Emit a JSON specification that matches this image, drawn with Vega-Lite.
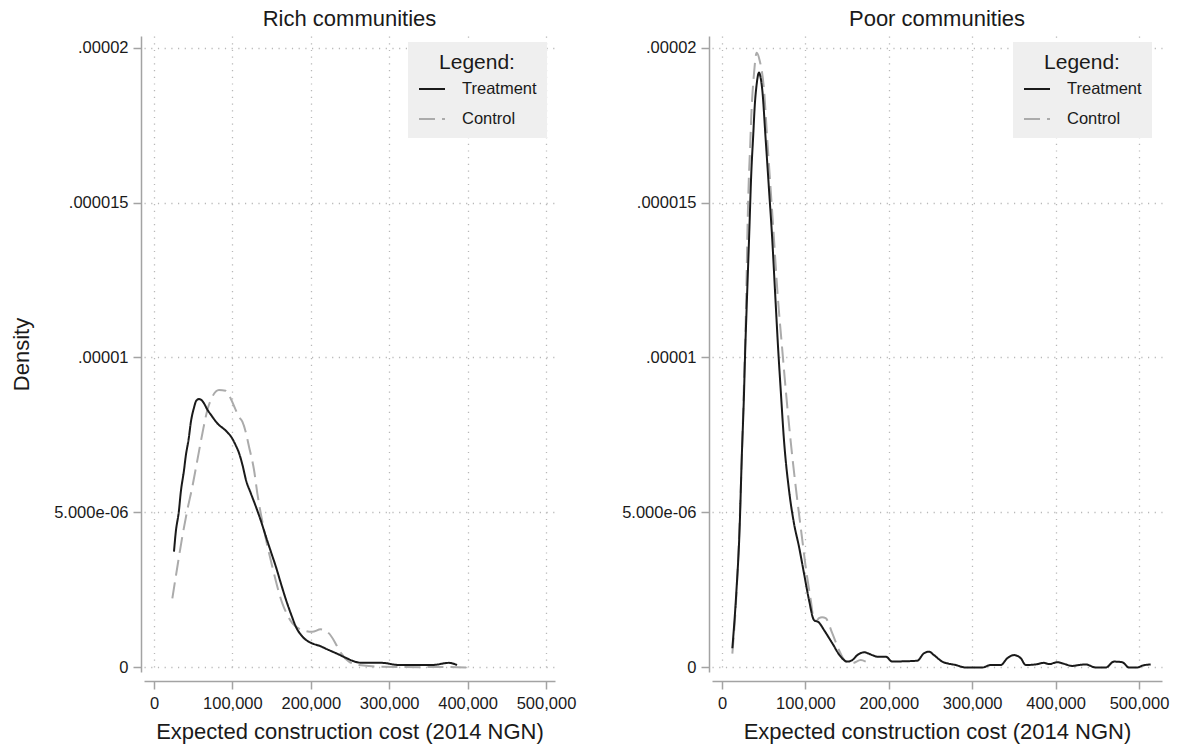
{
  "$schema": "https://vega.github.io/schema/vega-lite/v6.json",
  "background": "white",
  "padding": {"left": 10, "top": 8, "right": 10, "bottom": 5},
  "bounds": "flush",
  "spacing": 157,
  "config": {
    "view": {"stroke": null},
    "font": "Liberation Sans",
    "title": {"font": "Liberation Sans", "fontSize": 22, "fontWeight": "normal", "color": "#1a1a1a", "offset": 5, "baseline": "alphabetic", "anchor": "middle"},
    "axis": {
      "domainColor": "#a3a3a3", "domainWidth": 1.5, "tickColor": "#a3a3a3", "tickWidth": 1.5, "tickSize": 8,
      "labelFont": "Liberation Sans", "labelFontSize": 16.5, "labelColor": "#1a1a1a",
      "titleFont": "Liberation Sans", "titleFontSize": 22, "titleFontWeight": "normal", "titleColor": "#1a1a1a",
      "grid": true, "gridColor": "#b8b8b8", "gridDash": [1.2, 5.5], "gridWidth": 1.3
    },
    "axisX": {"labelPadding": 6, "titlePadding": 10, "labelAngle": 0},
    "axisY": {"labelPadding": 5, "titlePadding": 20, "labelAngle": 0}
  },
  "datasets": {
    "rich": [
      {"group": "Control", "cost": 23400, "density": 2.23e-6},
      {"group": "Control", "cost": 29800, "density": 3.25e-6},
      {"group": "Control", "cost": 36100, "density": 4.22e-6},
      {"group": "Control", "cost": 42500, "density": 5.08e-6},
      {"group": "Control", "cost": 48900, "density": 5.83e-6},
      {"group": "Control", "cost": 55300, "density": 6.69e-6},
      {"group": "Control", "cost": 61700, "density": 7.55e-6},
      {"group": "Control", "cost": 68100, "density": 8.31e-6},
      {"group": "Control", "cost": 74500, "density": 8.74e-6},
      {"group": "Control", "cost": 82900, "density": 8.95e-6},
      {"group": "Control", "cost": 91400, "density": 8.93e-6},
      {"group": "Control", "cost": 97800, "density": 8.68e-6},
      {"group": "Control", "cost": 104200, "density": 8.31e-6},
      {"group": "Control", "cost": 108500, "density": 8.08e-6},
      {"group": "Control", "cost": 112700, "density": 7.93e-6},
      {"group": "Control", "cost": 117000, "density": 7.6e-6},
      {"group": "Control", "cost": 121200, "density": 7.12e-6},
      {"group": "Control", "cost": 127600, "density": 6.37e-6},
      {"group": "Control", "cost": 131800, "density": 5.62e-6},
      {"group": "Control", "cost": 140300, "density": 4.44e-6},
      {"group": "Control", "cost": 150900, "density": 3.25e-6},
      {"group": "Control", "cost": 163700, "density": 2.07e-6},
      {"group": "Control", "cost": 170000, "density": 1.7e-6},
      {"group": "Control", "cost": 176400, "density": 1.43e-6},
      {"group": "Control", "cost": 189200, "density": 1.21e-6},
      {"group": "Control", "cost": 201900, "density": 1.15e-6},
      {"group": "Control", "cost": 212600, "density": 1.23e-6},
      {"group": "Control", "cost": 223200, "density": 1.1e-6},
      {"group": "Control", "cost": 230000, "density": 0.85e-6},
      {"group": "Control", "cost": 236000, "density": 0.56e-6},
      {"group": "Control", "cost": 248700, "density": 0.19e-6},
      {"group": "Control", "cost": 261500, "density": 0.08e-6},
      {"group": "Control", "cost": 287000, "density": 0.03e-6},
      {"group": "Control", "cost": 338000, "density": 0.01e-6},
      {"group": "Control", "cost": 370000, "density": 0.02e-6},
      {"group": "Control", "cost": 398000, "density": 0.0},
      {"group": "Treatment", "cost": 25500, "density": 3.74e-6},
      {"group": "Treatment", "cost": 27600, "density": 4.33e-6},
      {"group": "Treatment", "cost": 31900, "density": 5.08e-6},
      {"group": "Treatment", "cost": 34000, "density": 5.62e-6},
      {"group": "Treatment", "cost": 38300, "density": 6.37e-6},
      {"group": "Treatment", "cost": 40400, "density": 6.8e-6},
      {"group": "Treatment", "cost": 44600, "density": 7.44e-6},
      {"group": "Treatment", "cost": 46800, "density": 7.88e-6},
      {"group": "Treatment", "cost": 51000, "density": 8.38e-6},
      {"group": "Treatment", "cost": 54000, "density": 8.61e-6},
      {"group": "Treatment", "cost": 57400, "density": 8.66e-6},
      {"group": "Treatment", "cost": 60500, "density": 8.63e-6},
      {"group": "Treatment", "cost": 63800, "density": 8.52e-6},
      {"group": "Treatment", "cost": 68000, "density": 8.32e-6},
      {"group": "Treatment", "cost": 72700, "density": 8.15e-6},
      {"group": "Treatment", "cost": 77500, "density": 7.98e-6},
      {"group": "Treatment", "cost": 82900, "density": 7.82e-6},
      {"group": "Treatment", "cost": 88000, "density": 7.72e-6},
      {"group": "Treatment", "cost": 93100, "density": 7.6e-6},
      {"group": "Treatment", "cost": 99500, "density": 7.4e-6},
      {"group": "Treatment", "cost": 104000, "density": 7.18e-6},
      {"group": "Treatment", "cost": 108400, "density": 6.92e-6},
      {"group": "Treatment", "cost": 113000, "density": 6.52e-6},
      {"group": "Treatment", "cost": 117300, "density": 6.05e-6},
      {"group": "Treatment", "cost": 123500, "density": 5.62e-6},
      {"group": "Treatment", "cost": 130100, "density": 5.18e-6},
      {"group": "Treatment", "cost": 136500, "density": 4.72e-6},
      {"group": "Treatment", "cost": 142900, "density": 4.21e-6},
      {"group": "Treatment", "cost": 149300, "density": 3.72e-6},
      {"group": "Treatment", "cost": 155600, "density": 3.24e-6},
      {"group": "Treatment", "cost": 162000, "density": 2.7e-6},
      {"group": "Treatment", "cost": 168400, "density": 2.18e-6},
      {"group": "Treatment", "cost": 174800, "density": 1.72e-6},
      {"group": "Treatment", "cost": 181100, "density": 1.31e-6},
      {"group": "Treatment", "cost": 190000, "density": 0.98e-6},
      {"group": "Treatment", "cost": 199800, "density": 0.8e-6},
      {"group": "Treatment", "cost": 211000, "density": 0.7e-6},
      {"group": "Treatment", "cost": 223200, "density": 0.56e-6},
      {"group": "Treatment", "cost": 234000, "density": 0.44e-6},
      {"group": "Treatment", "cost": 244900, "density": 0.31e-6},
      {"group": "Treatment", "cost": 255000, "density": 0.2e-6},
      {"group": "Treatment", "cost": 265300, "density": 0.15e-6},
      {"group": "Treatment", "cost": 290800, "density": 0.15e-6},
      {"group": "Treatment", "cost": 312500, "density": 0.08e-6},
      {"group": "Treatment", "cost": 354600, "density": 0.08e-6},
      {"group": "Treatment", "cost": 376300, "density": 0.15e-6},
      {"group": "Treatment", "cost": 386500, "density": 0.08e-6}
    ],
    "poor": [
      {"group": "Control", "cost": 12400, "density": 0.45e-6},
      {"group": "Control", "cost": 17000, "density": 2.2e-6},
      {"group": "Control", "cost": 21000, "density": 4.6e-6},
      {"group": "Control", "cost": 24000, "density": 7.0e-6},
      {"group": "Control", "cost": 26500, "density": 9.3e-6},
      {"group": "Control", "cost": 28400, "density": 11.11e-6},
      {"group": "Control", "cost": 29600, "density": 12.73e-6},
      {"group": "Control", "cost": 30300, "density": 13.79e-6},
      {"group": "Control", "cost": 32400, "density": 15.95e-6},
      {"group": "Control", "cost": 33600, "density": 16.69e-6},
      {"group": "Control", "cost": 35100, "density": 17.77e-6},
      {"group": "Control", "cost": 38400, "density": 19.17e-6},
      {"group": "Control", "cost": 41600, "density": 19.83e-6},
      {"group": "Control", "cost": 45000, "density": 19.6e-6},
      {"group": "Control", "cost": 50400, "density": 18.63e-6},
      {"group": "Control", "cost": 54300, "density": 17.02e-6},
      {"group": "Control", "cost": 58400, "density": 15.4e-6},
      {"group": "Control", "cost": 62400, "density": 13.79e-6},
      {"group": "Control", "cost": 66300, "density": 12.18e-6},
      {"group": "Control", "cost": 72300, "density": 10.24e-6},
      {"group": "Control", "cost": 78300, "density": 8.41e-6},
      {"group": "Control", "cost": 84300, "density": 6.8e-6},
      {"group": "Control", "cost": 90300, "density": 5.4e-6},
      {"group": "Control", "cost": 96300, "density": 4.11e-6},
      {"group": "Control", "cost": 100300, "density": 3.25e-6},
      {"group": "Control", "cost": 106400, "density": 2.18e-6},
      {"group": "Control", "cost": 110300, "density": 1.53e-6},
      {"group": "Control", "cost": 113000, "density": 1.5e-6},
      {"group": "Control", "cost": 116300, "density": 1.59e-6},
      {"group": "Control", "cost": 120000, "density": 1.62e-6},
      {"group": "Control", "cost": 124300, "density": 1.59e-6},
      {"group": "Control", "cost": 132300, "density": 1.1e-6},
      {"group": "Control", "cost": 140300, "density": 0.56e-6},
      {"group": "Control", "cost": 148300, "density": 0.19e-6},
      {"group": "Control", "cost": 156300, "density": 0.14e-6},
      {"group": "Control", "cost": 166300, "density": 0.24e-6},
      {"group": "Control", "cost": 172300, "density": 0.19e-6},
      {"group": "Treatment", "cost": 12400, "density": 0.62e-6},
      {"group": "Treatment", "cost": 17100, "density": 2.39e-6},
      {"group": "Treatment", "cost": 21200, "density": 4.54e-6},
      {"group": "Treatment", "cost": 23600, "density": 6.69e-6},
      {"group": "Treatment", "cost": 26400, "density": 8.85e-6},
      {"group": "Treatment", "cost": 27600, "density": 10.03e-6},
      {"group": "Treatment", "cost": 29600, "density": 11.64e-6},
      {"group": "Treatment", "cost": 32400, "density": 13.79e-6},
      {"group": "Treatment", "cost": 35100, "density": 15.94e-6},
      {"group": "Treatment", "cost": 37500, "density": 17.2e-6},
      {"group": "Treatment", "cost": 39200, "density": 18.09e-6},
      {"group": "Treatment", "cost": 41500, "density": 18.8e-6},
      {"group": "Treatment", "cost": 44400, "density": 19.19e-6},
      {"group": "Treatment", "cost": 46500, "density": 19.0e-6},
      {"group": "Treatment", "cost": 48300, "density": 18.63e-6},
      {"group": "Treatment", "cost": 52400, "density": 17.02e-6},
      {"group": "Treatment", "cost": 56400, "density": 15.4e-6},
      {"group": "Treatment", "cost": 60300, "density": 13.79e-6},
      {"group": "Treatment", "cost": 63500, "density": 12.18e-6},
      {"group": "Treatment", "cost": 67500, "density": 10.2e-6},
      {"group": "Treatment", "cost": 70400, "density": 8.95e-6},
      {"group": "Treatment", "cost": 74300, "density": 7.34e-6},
      {"group": "Treatment", "cost": 80300, "density": 5.73e-6},
      {"group": "Treatment", "cost": 86300, "density": 4.65e-6},
      {"group": "Treatment", "cost": 92300, "density": 3.9e-6},
      {"group": "Treatment", "cost": 98300, "density": 3.04e-6},
      {"group": "Treatment", "cost": 104300, "density": 2.18e-6},
      {"group": "Treatment", "cost": 110300, "density": 1.53e-6},
      {"group": "Treatment", "cost": 116300, "density": 1.45e-6},
      {"group": "Treatment", "cost": 122300, "density": 1.21e-6},
      {"group": "Treatment", "cost": 132300, "density": 0.78e-6},
      {"group": "Treatment", "cost": 142300, "density": 0.35e-6},
      {"group": "Treatment", "cost": 150300, "density": 0.19e-6},
      {"group": "Treatment", "cost": 156300, "density": 0.24e-6},
      {"group": "Treatment", "cost": 162300, "density": 0.4e-6},
      {"group": "Treatment", "cost": 170300, "density": 0.49e-6},
      {"group": "Treatment", "cost": 180200, "density": 0.4e-6},
      {"group": "Treatment", "cost": 186200, "density": 0.35e-6},
      {"group": "Treatment", "cost": 196300, "density": 0.35e-6},
      {"group": "Treatment", "cost": 204200, "density": 0.19e-6},
      {"group": "Treatment", "cost": 218000, "density": 0.2e-6},
      {"group": "Treatment", "cost": 234200, "density": 0.22e-6},
      {"group": "Treatment", "cost": 242200, "density": 0.46e-6},
      {"group": "Treatment", "cost": 248200, "density": 0.51e-6},
      {"group": "Treatment", "cost": 254200, "density": 0.4e-6},
      {"group": "Treatment", "cost": 264100, "density": 0.19e-6},
      {"group": "Treatment", "cost": 280200, "density": 0.08e-6},
      {"group": "Treatment", "cost": 292200, "density": 0.0},
      {"group": "Treatment", "cost": 312100, "density": 0.0},
      {"group": "Treatment", "cost": 322200, "density": 0.08e-6},
      {"group": "Treatment", "cost": 334200, "density": 0.08e-6},
      {"group": "Treatment", "cost": 342100, "density": 0.3e-6},
      {"group": "Treatment", "cost": 350100, "density": 0.4e-6},
      {"group": "Treatment", "cost": 358200, "density": 0.3e-6},
      {"group": "Treatment", "cost": 364200, "density": 0.08e-6},
      {"group": "Treatment", "cost": 376100, "density": 0.1e-6},
      {"group": "Treatment", "cost": 386100, "density": 0.15e-6},
      {"group": "Treatment", "cost": 392100, "density": 0.11e-6},
      {"group": "Treatment", "cost": 402000, "density": 0.17e-6},
      {"group": "Treatment", "cost": 410000, "density": 0.12e-6},
      {"group": "Treatment", "cost": 420000, "density": 0.05e-6},
      {"group": "Treatment", "cost": 428000, "density": 0.08e-6},
      {"group": "Treatment", "cost": 436100, "density": 0.1e-6},
      {"group": "Treatment", "cost": 448100, "density": 0.0},
      {"group": "Treatment", "cost": 460100, "density": 0.0},
      {"group": "Treatment", "cost": 470100, "density": 0.19e-6},
      {"group": "Treatment", "cost": 480000, "density": 0.17e-6},
      {"group": "Treatment", "cost": 488000, "density": 0.0},
      {"group": "Treatment", "cost": 498000, "density": 0.0},
      {"group": "Treatment", "cost": 504000, "density": 0.06e-6},
      {"group": "Treatment", "cost": 514000, "density": 0.1e-6}
    ]
  },
  "hconcat": [
    {
      "title": {"text": "Rich communities"},
      "width": 411,
      "height": 636,
      "data": {"name": "rich"},
      "mark": {"type": "line", "strokeWidth": 2, "interpolate": "monotone"},
      "encoding": {
        "x": {"field": "cost", "type": "quantitative",
          "scale": {"domain": [-12755, 511480], "nice": false, "zero": false},
          "axis": {"values": [0, 100000, 200000, 300000, 400000, 500000], "format": ",d", "title": "Expected construction cost (2014 NGN)", "offset": 9}},
        "y": {"field": "density", "type": "quantitative",
          "scale": {"domain": [-1.452e-7, 2.0371e-5], "nice": false, "zero": false},
          "axis": {"values": [0, 5e-6, 1e-5, 1.5e-5, 2e-5], "labelExpr": "datum.value > 1.9e-5 ? '.00002' : datum.value > 1.4e-5 ? '.000015' : datum.value > 9e-6 ? '.00001' : datum.value > 4e-6 ? '5.000e-06' : '0'", "title": "Density", "offset": 3}},
        "color": {"field": "group", "type": "nominal",
          "scale": {"domain": ["Treatment", "Control"], "range": ["#1a1a1a", "#ababab"]},
          "legend": {"title": "Legend:", "orient": "none", "legendX": 264, "legendY": 6, "fillColor": "#efefef", "padding": 10, "titleFontSize": 21, "titleFontWeight": "normal", "titleFont": "Liberation Sans", "titleColor": "#1a1a1a", "titleAnchor": "middle", "titleAlign": "center", "titlePadding": 2, "labelFontSize": 16.5, "labelFont": "Liberation Sans", "labelColor": "#1a1a1a", "symbolType": "stroke", "symbolSize": 676, "symbolStrokeWidth": 2, "labelOffset": 16, "rowPadding": 7}},
        "strokeDash": {"field": "group", "type": "nominal",
          "scale": {"domain": ["Treatment", "Control"], "range": [[1, 0], [16, 7]]},
          "legend": {"title": "Legend:", "orient": "none", "legendX": 264, "legendY": 6, "fillColor": "#efefef", "padding": 10, "titleFontSize": 21, "titleFontWeight": "normal", "titleFont": "Liberation Sans", "titleColor": "#1a1a1a", "titleAnchor": "middle", "titleAlign": "center", "titlePadding": 2, "labelFontSize": 16.5, "labelFont": "Liberation Sans", "labelColor": "#1a1a1a", "symbolType": "stroke", "symbolSize": 676, "symbolStrokeWidth": 2, "labelOffset": 16, "rowPadding": 7}}
      }
    },
    {
      "title": {"text": "Poor communities"},
      "width": 450,
      "height": 636,
      "data": {"name": "poor"},
      "mark": {"type": "line", "strokeWidth": 2, "interpolate": "monotone"},
      "encoding": {
        "x": {"field": "cost", "type": "quantitative",
          "scale": {"domain": [-11990, 527578], "nice": false, "zero": false},
          "axis": {"values": [0, 100000, 200000, 300000, 400000, 500000], "format": ",d", "title": "Expected construction cost (2014 NGN)", "offset": 9}},
        "y": {"field": "density", "type": "quantitative",
          "scale": {"domain": [-1.452e-7, 2.0371e-5], "nice": false, "zero": false},
          "axis": {"values": [0, 5e-6, 1e-5, 1.5e-5, 2e-5], "labelExpr": "datum.value > 1.9e-5 ? '.00002' : datum.value > 1.4e-5 ? '.000015' : datum.value > 9e-6 ? '.00001' : datum.value > 4e-6 ? '5.000e-06' : '0'", "title": null, "offset": 3}},
        "color": {"field": "group", "type": "nominal",
          "scale": {"domain": ["Treatment", "Control"], "range": ["#1a1a1a", "#ababab"]},
          "legend": {"title": "Legend:", "orient": "none", "legendX": 301, "legendY": 6, "fillColor": "#efefef", "padding": 10, "titleFontSize": 21, "titleFontWeight": "normal", "titleFont": "Liberation Sans", "titleColor": "#1a1a1a", "titleAnchor": "middle", "titleAlign": "center", "titlePadding": 2, "labelFontSize": 16.5, "labelFont": "Liberation Sans", "labelColor": "#1a1a1a", "symbolType": "stroke", "symbolSize": 676, "symbolStrokeWidth": 2, "labelOffset": 16, "rowPadding": 7}},
        "strokeDash": {"field": "group", "type": "nominal",
          "scale": {"domain": ["Treatment", "Control"], "range": [[1, 0], [16, 7]]},
          "legend": {"title": "Legend:", "orient": "none", "legendX": 301, "legendY": 6, "fillColor": "#efefef", "padding": 10, "titleFontSize": 21, "titleFontWeight": "normal", "titleFont": "Liberation Sans", "titleColor": "#1a1a1a", "titleAnchor": "middle", "titleAlign": "center", "titlePadding": 2, "labelFontSize": 16.5, "labelFont": "Liberation Sans", "labelColor": "#1a1a1a", "symbolType": "stroke", "symbolSize": 676, "symbolStrokeWidth": 2, "labelOffset": 16, "rowPadding": 7}}
      }
    }
  ],
  "resolve": {"scale": {"x": "independent", "y": "independent", "color": "independent", "strokeDash": "independent"}, "legend": {"color": "independent", "strokeDash": "independent"}}
}
